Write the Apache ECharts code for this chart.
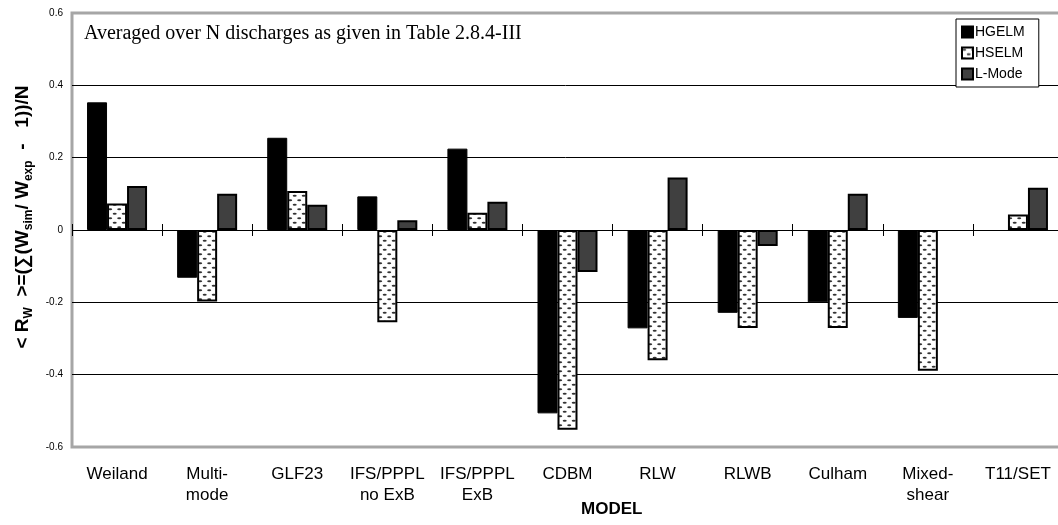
<!DOCTYPE html>
<html>
<head>
<meta charset="utf-8">
<script src="https://cdn.jsdelivr.net/npm/echarts@6/dist/echarts.min.js"></script>
<style>
  html, body { margin: 0; padding: 0; background: #fff; }
  #main { width: 1058px; height: 525px; }
</style>
</head>
<body>
<div id="main"></div>
<script>
// models along the x axis
var models = ['Weiland', 'Multi-\nmode', 'GLF23', 'IFS/PPPL\nno ExB', 'IFS/PPPL\nExB',
    'CDBM', 'RLW', 'RLWB', 'Culham', 'Mixed-\nshear', 'T11/SET'];
// <R_W> per model
var hgelm = [0.353, -0.132, 0.255, 0.093, 0.225, -0.507, -0.272, -0.229, -0.200, -0.243, null];
var hselm = [0.073, -0.198, 0.108, -0.255, 0.048, -0.552, -0.360, -0.271, -0.271, -0.389, 0.043];
var lmode = [0.122, 0.100, 0.070, 0.027, 0.078, -0.116, 0.145, -0.044, 0.100, null, 0.117];
var yTicks = [-0.6, -0.4, -0.2, 0, 0.2, 0.4, 0.6];

var sans = '"Liberation Sans", Arial, sans-serif';

//白底点状填充 (HSELM)
function dotPattern() {
    var c = document.createElement('canvas');
    c.width = 9;
    c.height = 9;
    var ctx = c.getContext('2d');
    ctx.fillStyle = '#fff';
    ctx.fillRect(0, 0, 9, 9);
    ctx.fillStyle = '#333';
    ctx.beginPath();
    ctx.ellipse(2.2, 2.2, 2, 1, 0, 0, Math.PI * 2);
    ctx.fill();
    ctx.beginPath();
    ctx.ellipse(6.7, 6.7, 2, 1, 0, 0, Math.PI * 2);
    ctx.fill();
    return c;
}

var myChart = echarts.init(document.getElementById('main'), null, { renderer: 'canvas' });

var option = {
    animation : false,
    backgroundColor : '#fff',
    grid : {
        left : 72,
        right : -5,
        top : 13,
        bottom : 78,
        containLabel : false,
        outerBoundsMode : 'none',
        show : true,
        borderColor : '#a6a6a6',
        borderWidth : 3,
        backgroundColor : '#fff'
    },
    legend : {
        orient : 'vertical',
        left : 956,
        top : 19,
        padding : [6, 14, 6, 5],
        itemGap : 7,
        itemWidth : 11,
        itemHeight : 11,
        icon : 'rect',
        backgroundColor : '#fff',
        borderColor : '#000',
        borderWidth : 1,
        borderRadius : 0,
        textStyle : { fontFamily : sans, fontSize : 14, color : '#000', padding : [0, 0, 0, -3] },
        data : ['HGELM', 'HSELM', 'L-Mode']
    },
    graphic : [{
        type : 'text',
        left : 84,
        top : 24,
        style : {
            text : 'Averaged over N discharges as given in Table 2.8.4-III',
            font : '20px "Liberation Serif", "Times New Roman", serif',
            fill : '#000'
        }
    }, {
        type : 'text',
        left : 581,
        top : 501,
        style : {
            text : 'MODEL',
            font : 'bold 17px ' + sans,
            fill : '#000'
        }
    }],
    xAxis : [{
        type : 'category',
        data : models,
        position : 'bottom',
        axisLine : { show : false, onZero : false },
        axisTick : { show : false },
        axisLabel : {
            margin : 17,
            interval : 0,
            fontFamily : sans,
            fontSize : 17,
            lineHeight : 21,
            color : '#000',
            verticalAlign : 'top'
        }
    }, {
        // tick marks crossing the zero line
        type : 'category',
        data : models,
        position : 'top',
        offset : -223,
        axisLine : { show : false, onZero : false },
        axisTick : { show : true, length : 12, lineStyle : { color : '#000' } },
        axisLabel : { show : false }
    }],
    yAxis : {
        type : 'value',
        min : yTicks[0],
        max : yTicks[yTicks.length - 1],
        interval : 0.2,
        axisLine : { show : false },
        axisTick : { show : false },
        splitLine : { show : true, showMinLine : false, showMaxLine : false, lineStyle : { color : '#000', width : 1 } },
        axisLabel : {
            margin : 9,
            fontFamily : sans,
            fontSize : 10,
            color : '#000',
            formatter : function(v) {
                return Math.abs(v) < 1e-9 ? '0' : (+v.toFixed(1)).toString();
            }
        },
        name : '{m|< R}{s|W}{m|  >=(∑(W}{s|sim}{m|/ W}{s|exp}{m|  -   1))/N}',
        nameLocation : 'middle',
        nameGap : 30,
        nameTextStyle : {
            padding : [0, 0, 0, 26],
            rich : {
                m : { fontFamily : sans, fontWeight : 'bold', fontSize : 19, lineHeight : 24, color : '#000' },
                s : { fontFamily : sans, fontWeight : 'bold', fontSize : 12, lineHeight : 11, verticalAlign : 'bottom', color : '#000' }
            }
        }
    },
    series : [{
        name : 'HGELM',
        type : 'bar',
        barWidth : 20,
        barGap : '0%',
        itemStyle : { color : '#000', borderColor : '#000', borderWidth : 1 },
        data : hgelm
    }, {
        name : 'HSELM',
        type : 'bar',
        barWidth : 20,
        barGap : '0%',
        itemStyle : { color : { image : dotPattern(), repeat : 'repeat' }, borderColor : '#000', borderWidth : 2 },
        data : hselm
    }, {
        name : 'L-Mode',
        type : 'bar',
        barWidth : 20,
        barGap : '0%',
        itemStyle : { color : '#404040', borderColor : '#000', borderWidth : 2 },
        data : lmode
    }]
};
myChart.setOption(option);
</script>
</body>
</html>
